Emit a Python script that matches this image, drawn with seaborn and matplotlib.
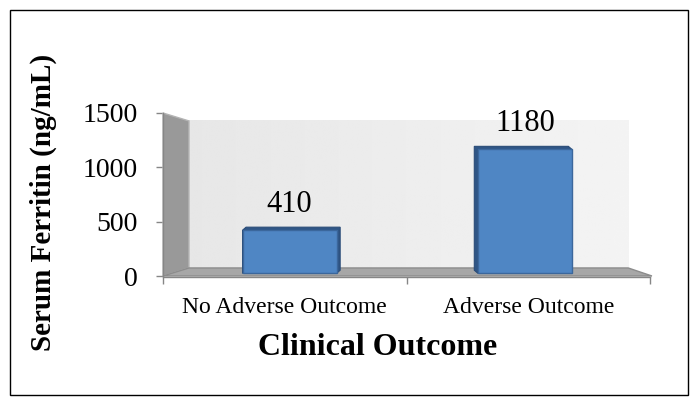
import numpy as np
import matplotlib
matplotlib.use("Agg")
import matplotlib.pyplot as plt
import seaborn as sns
from matplotlib.patches import Polygon, Rectangle
from matplotlib.transforms import Affine2D, IdentityTransform

# ---- data ----
categories = ["No Adverse Outcome", "Adverse Outcome"]
ferritin = [410, 1180]
y_ticks = [0, 500, 1000, 1500]

sns.set_theme(style="white")
plt.rcParams["font.family"] = ["Liberation Serif", "DejaVu Serif"]
plt.rcParams["text.color"] = "black"
plt.rcParams["axes.labelcolor"] = "black"

fig = plt.figure(figsize=(6.91, 4.05), dpi=100)
ax = fig.add_axes([163 / 691, 129 / 405, 487 / 691, 163 / 405])
ax.set_facecolor("none")

# perspective: the box recedes toward a vanishing point (axes fraction)
VP = np.array([0.544, 0.503])
WALL_BACK = 0.902   # scale of the back wall
BAR_FRONT = 0.966   # scale of the bars' front faces


def recede(pt, s):
    pt = np.asarray(pt, dtype=float)
    return VP + s * (pt - VP)


# back wall with a soft horizontal gradient
bx0, by0 = recede((0, 0), WALL_BACK)
bx1, by1 = recede((1, 1), WALL_BACK)
grad = np.linspace(0.905, 0.955, 256)[None, :]
ax.imshow(grad, cmap="gray", vmin=0, vmax=1, extent=(bx0, bx1, by0, by1),
          transform=ax.transAxes, aspect="auto", zorder=0, interpolation="bilinear")

# side wall and floor
side = [(0, 0), (0, 1), tuple(recede((0, 1), WALL_BACK)), tuple(recede((0, 0), WALL_BACK))]
floor = [(0, 0), (1.004, 0), tuple(recede((1, 0), WALL_BACK)), tuple(recede((0, 0), WALL_BACK))]
ax.add_patch(Polygon(side, closed=True, transform=ax.transAxes, facecolor="#999999",
                     edgecolor="#b4b4b4", lw=1, zorder=1, clip_on=False))
ax.add_patch(Polygon(floor, closed=True, transform=ax.transAxes, facecolor="#a7a7a7",
                     edgecolor="#8c8c8c", lw=1, zorder=1, clip_on=False))

# bars
sns.barplot(x=categories, y=ferritin, width=0.4, color="#4f86c4", saturation=1,
            edgecolor="#3b679c", linewidth=1.0, ax=ax, zorder=3)
ax.set_xlim(-0.5, 1.5)
ax.set_ylim(0, 1500)

fig.canvas.draw()
vx, vy = ax.transAxes.transform(VP)
bar_tf = ax.transData + Affine2D().translate(-vx, -vy).scale(BAR_FRONT).translate(vx, vy)


def hull(points):
    pts = sorted(set(points))
    def cross(o, a, b):
        return (a[0] - o[0]) * (b[1] - o[1]) - (a[1] - o[1]) * (b[0] - o[0])
    lower, upper = [], []
    for p in pts:
        while len(lower) >= 2 and cross(lower[-2], lower[-1], p) <= 0:
            lower.pop()
        lower.append(p)
    for p in reversed(pts):
        while len(upper) >= 2 and cross(upper[-2], upper[-1], p) <= 0:
            upper.pop()
        upper.append(p)
    return lower[:-1] + upper[:-1]


for bar in list(ax.patches):
    if not isinstance(bar, Rectangle):
        continue
    bar.set_transform(bar_tf)
    bar.set_clip_on(False)
    x0, y0 = bar.get_x(), bar.get_y()
    x1, y1 = x0 + bar.get_width(), y0 + bar.get_height()
    corners = bar_tf.transform([(x0, y0), (x1, y0), (x1, y1), (x0, y1)])
    cx = corners[:, 0].mean()
    dx = 3.5 if cx < vx else -3.5
    dy = 3.0
    shifted = corners + np.array([dx, dy])
    pts = [tuple(p) for p in np.vstack([corners, shifted])]
    ax.add_patch(Polygon(hull(pts), closed=True, transform=IdentityTransform(),
                         facecolor="#2f5585", edgecolor="#2a4c78", lw=0.8,
                         zorder=2.5, clip_on=False))

# value labels
for i, v in enumerate(ferritin):
    ax.annotate(f"{v}", xy=(i, v), xycoords=bar_tf, xytext=(0, 13),
                textcoords="offset points", ha="center", va="baseline",
                fontsize=22, color="black")

# axes styling
for s in ["top", "right"]:
    ax.spines[s].set_visible(False)
for s in ["left", "bottom"]:
    ax.spines[s].set_color("#868686")
    ax.spines[s].set_linewidth(1.0)
    ax.spines[s].set_zorder(4)
ax.spines["bottom"].set_position(("outward", 1))

ax.set_yticks(y_ticks)
ax.set_yticklabels([str(t) for t in y_ticks])
ax.tick_params(axis="y", direction="out", length=5, width=1, color="#868686",
               pad=13, labelsize=20, labelcolor="black", left=True)
ax.set_xticks([0, 1])
ax.set_xticklabels(categories)
ax.set_xticks([-0.5, 0.5, 1.5], minor=True)
ax.tick_params(axis="x", which="major", length=0, pad=14, labelsize=17, labelcolor="black")
ax.tick_params(axis="x", which="minor", direction="out", length=5, width=1,
               color="#868686", bottom=True)
ax.grid(False)

fig.text(43 / 691, 1 - 202 / 405, "Serum Ferritin (ng/mL)", rotation=90,
         ha="center", va="center", fontsize=21, fontweight="bold", color="black")
fig.text(378 / 691, 1 - 355 / 405, "Clinical Outcome", ha="center", va="baseline",
         fontsize=23, fontweight="bold", color="black")

# outer frame
fig.add_artist(Rectangle((10 / 691, 10 / 405), 678 / 691, 385 / 405,
                         transform=fig.transFigure, fill=False,
                         edgecolor="black", lw=1.0))

fig.savefig("out.png", dpi=100)
